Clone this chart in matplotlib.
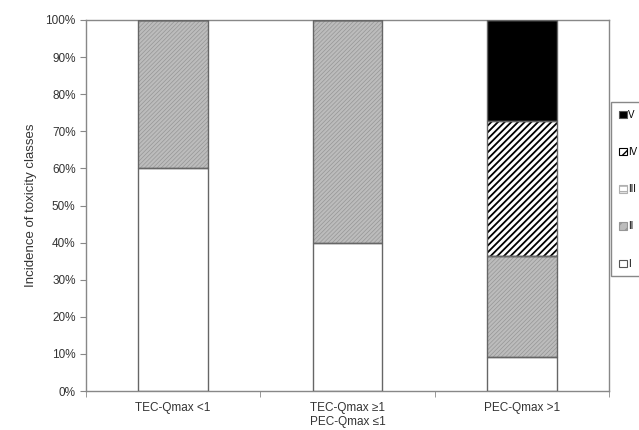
import numpy as np
import matplotlib
matplotlib.use("Agg")
import matplotlib.pyplot as plt
import matplotlib.patches as mpatches

plt.rcParams["font.family"] = ["Liberation Sans", "DejaVu Sans"]

# --- Data (share of toxicity classes per group, %) ---
groups = ["TEC-Qmax <1", "TEC-Qmax \u22651\nPEC-Qmax \u22641", "PEC-Qmax >1"]
classes = ["I", "II", "III", "IV", "V"]
class_I = [60.0, 40.0, 9.1]
class_II = [40.0, 60.0, 27.3]
class_III = [0.0, 0.0, 0.0]
class_IV = [0.0, 0.0, 36.4]
class_V = [0.0, 0.0, 27.2]
series = [class_I, class_II, class_III, class_IV, class_V]

# fill styles: (facecolor, hatch, hatch colour, hatch linewidth)
styles = [
    ("white", None, None, 0),
    ("#bcbcbc", "////////", "#969696", 0.5),
    ("white", "------", "#b0b0b0", 0.6),
    ("white", "/////", "black", 1.3),
    ("black", None, None, 0),
]

fig = plt.figure(figsize=(6.39, 4.30), dpi=100)
ax = fig.add_axes([86 / 639, 1 - 391 / 430, 523 / 639, 371 / 430])

x = np.arange(len(groups))
width = 0.4
bottom = np.zeros(len(groups))
for vals, (fc, hatch, hc, hlw) in zip(series, styles):
    vals = np.array(vals)
    if hatch:
        with plt.rc_context({"hatch.linewidth": hlw}):
            ax.bar(x, vals, width, bottom=bottom, facecolor=fc, hatch=hatch,
                   edgecolor=hc, linewidth=0, zorder=2)
    else:
        ax.bar(x, vals, width, bottom=bottom, facecolor=fc, linewidth=0, zorder=2)
    ax.bar(x, vals, width, bottom=bottom, fill=False, edgecolor="#666666",
           linewidth=1.0, zorder=3)
    bottom += vals

ax.set_xlim(-0.5, len(groups) - 0.5)
ax.set_ylim(0, 100)
ax.set_yticks(np.arange(0, 101, 10))
ax.set_yticklabels([f"{v}%" for v in range(0, 101, 10)], fontsize=8.5, color="#333333")
ax.set_xticks(x)
ax.set_xticklabels(groups, fontsize=8.5, color="#333333")
ax.tick_params(axis="x", which="major", length=0, pad=8)
ax.set_xticks(np.arange(-0.5, len(groups), 1.0), minor=True)
ax.tick_params(axis="x", which="minor", length=4, direction="out", color="#888888")
ax.tick_params(axis="y", length=4, direction="out", color="#888888")
for s in ax.spines.values():
    s.set_color("#888888")
    s.set_linewidth(1.0)
ax.set_ylabel("Incidence of toxicity classes", fontsize=9.5, color="#333333", labelpad=6)

# legend at the right edge
handles = []
for (fc, hatch, hc, hlw), name in zip(styles, classes):
    if hatch:
        with plt.rc_context({"hatch.linewidth": min(hlw, 0.8)}):
            handles.append(mpatches.Patch(facecolor=fc, hatch=hatch[:3], edgecolor=hc, linewidth=0.8))
    else:
        handles.append(mpatches.Patch(facecolor=fc, edgecolor="#555555", linewidth=0.8))
leg = fig.legend(handles[::-1], classes[::-1], loc="upper left",
                 bbox_to_anchor=(611 / 639, 1 - 102 / 430), fontsize=7,
                 handlelength=0.8, handleheight=0.8, handletextpad=0.15,
                 labelspacing=2.8, borderpad=0.8, borderaxespad=0,
                 fancybox=False, edgecolor="#888888", framealpha=1)
leg.get_frame().set_linewidth(1.0)

fig.savefig("out.png", dpi=100)
